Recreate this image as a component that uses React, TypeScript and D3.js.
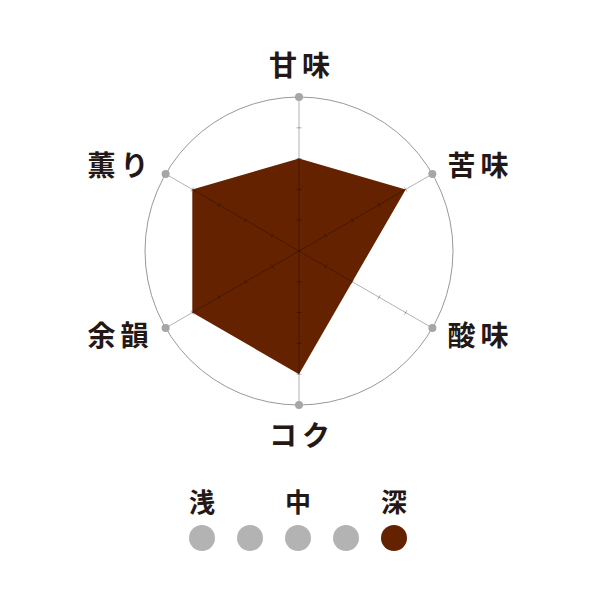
import React from "react";
import * as d3 from "d3";

const axes = ["甘味", "苦味", "酸味", "コク", "余韻", "薫り"];
const values = [3, 4, 2, 4, 4, 4];
const maxValue = 5;
const tickValues = [1, 2, 3, 4];

const roastLevels = ["浅", "", "中", "", "深"];
const roastSelected = 4;

const width = 600;
const height = 600;
const cx = 299;
const cy = 251;
const radius = 154;

const brown = "#652200";
const grey = "#b3b3b3";
const fontFamily = "'Noto Sans CJK JP', 'Noto Sans', sans-serif";

const App = () => {
  const r = d3.scaleLinear().domain([0, maxValue]).range([0, radius]);
  const angle = d3
    .scalePoint<number>()
    .domain(d3.range(axes.length + 1))
    .range([0, 2 * Math.PI]);

  const a = (i: number) => angle(i) as number;
  const pos = (i: number, v: number): [number, number] => [
    Math.sin(a(i)) * r(v),
    -Math.cos(a(i)) * r(v),
  ];

  const area = d3
    .lineRadial<number>()
    .curve(d3.curveLinearClosed)
    .angle((_, i) => a(i))
    .radius((d) => r(d));

  const roastX = d3
    .scalePoint<number>()
    .domain(d3.range(roastLevels.length))
    .range([202, 394]);

  return (
    <svg
      width={width}
      height={height}
      style={{ position: "absolute", left: 0, top: 0, background: "#fff" }}
    >
      <g transform={`translate(${cx},${cy})`}>
        <circle r={radius} fill="none" stroke="#999" strokeWidth={1} />
        <path d={area(values) || ""} fill={brown} />
        {axes.map((name, i) => {
          const [x, y] = pos(i, maxValue);
          const s = Math.sin(a(i));
          const c = Math.cos(a(i));
          const side = Math.abs(s) > 0.1;
          const lx = x + s * 52 - (s < -0.1 ? 3 : 0);
          const ly = y - c * (side ? 16 : 31) - 2;
          return (
            <g key={name}>
              <line
                x1={0}
                y1={0}
                x2={x}
                y2={y}
                stroke="#000"
                strokeOpacity={0.3}
                strokeWidth={1}
              />
              {tickValues.map((t) => {
                const [tx, ty] = pos(i, t);
                // short mark across the axis
                const px = c * 2.5;
                const py = s * 2.5;
                return (
                  <line
                    key={t}
                    x1={tx - px}
                    y1={ty - py}
                    x2={tx + px}
                    y2={ty + py}
                    stroke="#000"
                    strokeOpacity={0.3}
                    strokeWidth={1}
                  />
                );
              })}
              <circle cx={x} cy={y} r={4} fill="#a6a6a6" />
              <text
                x={lx + 3}
                y={ly}
                textAnchor="middle"
                dominantBaseline="central"
                fontFamily={fontFamily}
                fontSize={28}
                fontWeight={700}
                letterSpacing={5}
                fill="#231815"
              >
                {name}
              </text>
            </g>
          );
        })}
      </g>
      <g>
        {roastLevels.map((lv, i) => (
          <g key={i}>
            {lv && (
              <text
                x={roastX(i)}
                y={500}
                textAnchor="middle"
                dominantBaseline="central"
                fontFamily={fontFamily}
                fontSize={26}
                fontWeight={700}
                fill="#231815"
              >
                {lv}
              </text>
            )}
            <circle
              cx={roastX(i)}
              cy={538}
              r={13}
              fill={i === roastSelected ? brown : grey}
            />
          </g>
        ))}
      </g>
    </svg>
  );
};

export default App;
